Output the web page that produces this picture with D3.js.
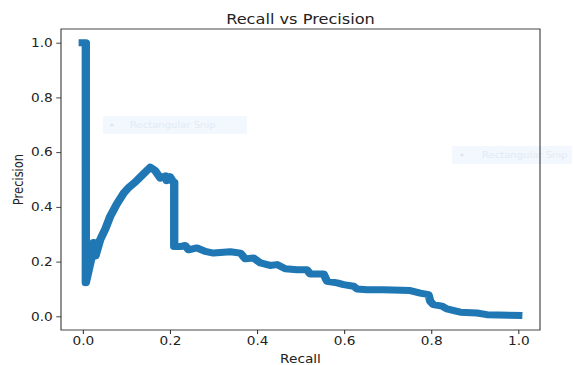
<!DOCTYPE html>
<html>
<head>
<meta charset="utf-8">
<script src="https://cdn.jsdelivr.net/npm/d3@7"></script>
<style>
  html, body { margin: 0; padding: 0; background: #fff; }
  svg { display: block; }
  text { font-family: "DejaVu Sans", sans-serif; }
</style>
</head>
<body>
<script>
// Precision-recall curve points
const recall = [
  0, 0.007, 0.007, 0.019, 0.025, 0.029, 0.04, 0.052, 0.063, 0.078, 0.094, 0.105,
  0.12, 0.136, 0.155, 0.166, 0.178, 0.19, 0.193, 0.2, 0.208, 0.21, 0.21, 0.224,
  0.235, 0.243, 0.262, 0.281, 0.30, 0.339, 0.362, 0.373, 0.392, 0.408, 0.43, 0.446,
  0.465, 0.492, 0.515, 0.522, 0.553, 0.561, 0.584, 0.599, 0.622, 0.63, 0.653, 0.69,
  0.752, 0.775, 0.794, 0.798, 0.805, 0.825, 0.836, 0.867, 0.905, 0.928, 1.0
];
const precision = [
  1.0, 1.0, 0.123, 0.207, 0.27, 0.22, 0.28, 0.32, 0.365, 0.41, 0.45, 0.47,
  0.49, 0.515, 0.545, 0.533, 0.505, 0.513, 0.496, 0.51, 0.49, 0.49, 0.255, 0.255,
  0.259, 0.243, 0.25, 0.237, 0.231, 0.236, 0.231, 0.21, 0.213, 0.195, 0.186, 0.189,
  0.174, 0.17, 0.17, 0.155, 0.155, 0.128, 0.122, 0.116, 0.11, 0.10, 0.097, 0.097,
  0.094, 0.085, 0.079, 0.055, 0.043, 0.037, 0.027, 0.015, 0.012, 0.006, 0.003
];
const xTicks = [0, 0.2, 0.4, 0.6, 0.8, 1.0];
const yTicks = [0, 0.2, 0.4, 0.6, 0.8, 1.0];

(function () {
  const W = 573, H = 365;
  const sx = 1.19;                 // horizontal stretch of the figure
  const VW = W / sx;

  const svg = d3.select("body").append("svg")
    .attr("width", W).attr("height", H)
    .attr("viewBox", `0 0 ${VW} ${H}`)
    .attr("preserveAspectRatio", "none");

  const pLeft = 61 / sx, pRight = 540 / sx, pTop = 29, pBottom = 330;

  const x = d3.scaleLinear().domain([-0.05, 1.05]).range([pLeft, pRight]);
  const y = d3.scaleLinear().domain([-0.05, 1.05]).range([pBottom, pTop]);

  // Faint overlay boxes
  function snip(bx, by, bw, dotX, textX) {
    const g = svg.append("g");
    g.append("rect").attr("x", bx).attr("y", by).attr("width", bw).attr("height", 18)
      .attr("fill", "#f2f8fe");
    g.append("circle").attr("cx", dotX).attr("cy", by + 9).attr("r", 1.6).attr("fill", "#dfe6ee");
    g.append("text").attr("x", textX).attr("y", by + 12.5)
      .attr("font-size", 9).attr("fill", "#e3eaf2")
      .attr("textLength", 72).attr("lengthAdjust", "spacingAndGlyphs")
      .text("Rectangular Snip");
  }
  snip(103 / sx, 116, 144 / sx, 112 / sx, 130 / sx);
  snip(452 / sx, 146, 120 / sx, 462 / sx, 482 / sx);

  // Axes
  const fmt = d3.format(".1f");
  const xAxis = svg.append("g").attr("transform", `translate(0,${pBottom})`)
    .call(d3.axisBottom(x).tickValues(xTicks).tickFormat(fmt).tickSize(4).tickPadding(3));
  const yAxis = svg.append("g").attr("transform", `translate(${pLeft},0)`)
    .call(d3.axisLeft(y).tickValues(yTicks).tickFormat(fmt).tickSize(4).tickPadding(3));
  [xAxis, yAxis].forEach(a => {
    a.select(".domain").remove();
    a.selectAll("line").attr("stroke", "#333").attr("stroke-width", 0.9);
    a.selectAll("text").attr("font-size", 11.5).attr("fill", "#222")
      .attr("font-family", "DejaVu Sans, sans-serif");
  });

  // Curve
  const line = d3.line().x((d, i) => x(recall[i])).y(d => y(d));
  svg.append("path")
    .datum(precision)
    .attr("d", line)
    .attr("fill", "none")
    .attr("stroke", "#1f77b4")
    .attr("stroke-width", 7)
    .attr("stroke-linejoin", "round")
    .attr("stroke-linecap", "square");

  // Frame
  svg.append("rect").attr("x", pLeft).attr("y", pTop)
    .attr("width", pRight - pLeft).attr("height", pBottom - pTop)
    .attr("fill", "none").attr("stroke", "#333").attr("stroke-width", 0.9);

  // Titles
  svg.append("text").attr("x", (pLeft + pRight) / 2).attr("y", 24.5)
    .attr("text-anchor", "middle").attr("font-size", 13.6).attr("fill", "#222")
    .text("Recall vs Precision");
  svg.append("text").attr("x", (pLeft + pRight) / 2).attr("y", 363.5)
    .attr("text-anchor", "middle").attr("font-size", 11.5).attr("fill", "#222")
    .text("Recall");
  svg.append("text")
    .attr("transform", `translate(${23.3 / sx},${(pTop + pBottom) / 2}) rotate(-90)`)
    .attr("text-anchor", "middle").attr("font-size", 11.5).attr("fill", "#222")
    .text("Precision");
})();
</script>
</body>
</html>
